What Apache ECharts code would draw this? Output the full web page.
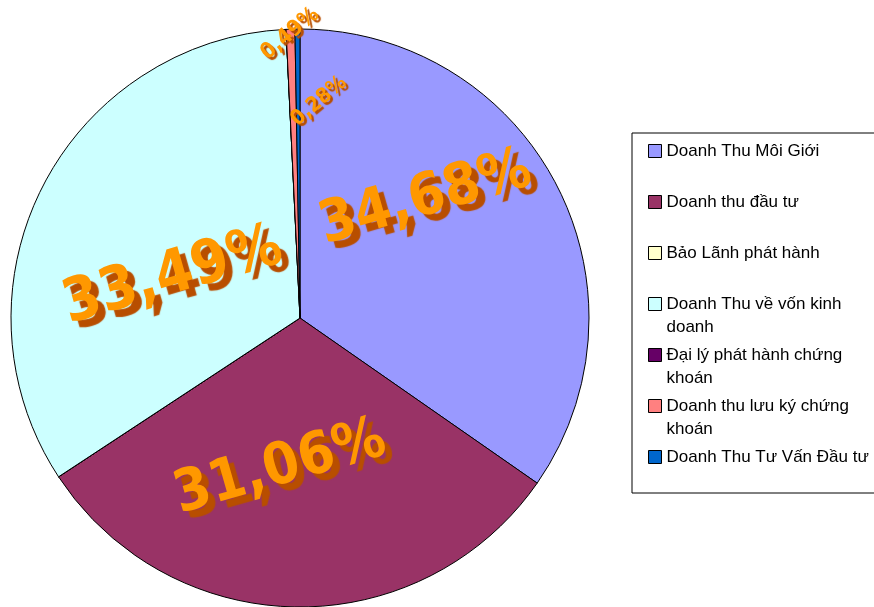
<!DOCTYPE html>
<html><head><meta charset="utf-8">
<script src="https://cdn.jsdelivr.net/npm/echarts@6/dist/echarts.min.js"></script>
<style>html,body{margin:0;padding:0;background:#fff}#c{width:874px;height:607px}</style>
</head><body><div id="c"></div>
<script>
// ---- data ----
const categories = ['Doanh Thu Môi Giới', 'Doanh thu đầu tư', 'Bảo Lãnh phát hành', 'Doanh Thu về vốn kinh doanh', 'Đại lý phát hành chứng khoán', 'Doanh thu lưu ký chứng khoán', 'Doanh Thu Tư Vấn Đầu tư'];
const values = [34.68, 31.06, 0, 33.49, 0, 0.49, 0.28];
const legendLines = {
  'Doanh Thu về vốn kinh doanh': ['Doanh Thu về vốn kinh', 'doanh'],
  'Đại lý phát hành chứng khoán': ['Đại lý phát hành chứng', 'khoán'],
  'Doanh thu lưu ký chứng khoán': ['Doanh thu lưu ký chứng', 'khoán']
};

// ---- styles ----
const colors = ['#9999FF', '#993366', '#FFFFCC', '#CCFFFF', '#660066', '#FF8080', '#0066CC'];
const labelStyles = [
  { fontSize: 58, rotate: 16, offset: [9, -50] },
  { fontSize: 58, rotate: 16, offset: [-18, -2] },
  null,
  { fontSize: 60, rotate: 16, offset: [-3, 26] },
  null,
  { fontSize: 22, rotate: 40, offset: [84, -108] },
  { fontSize: 21, rotate: 40, offset: [60, -40] }
];

const chart = echarts.init(document.getElementById('c'), null, { renderer: 'canvas' });

const seriesData = categories.map((name, i) => {
  const ls = labelStyles[i];
  const item = { name: name, value: values[i] };
  if (!ls || values[i] === 0) {
    item.label = { show: false };
  } else {
    item.label = { fontSize: ls.fontSize, rotate: ls.rotate, offset: ls.offset,
      color: '#FF9800', textShadowColor: '#B84E00', textShadowBlur: 1,
      textShadowOffsetX: Math.max(2, ls.fontSize / 8), textShadowOffsetY: Math.max(2, ls.fontSize / 9) };
  }
  return item;
});

chart.setOption({
  animation: false,
  color: colors,
  legend: {
    orient: 'vertical',
    left: 632,
    top: 133,
    padding: [6, 30, 1, 16],
    itemGap: 4,
    itemWidth: 13,
    itemHeight: 46,
    icon: 'path://M0,0 M0,5 L13,5 L13,18 L0,18 Z M13,46',
    itemStyle: { borderColor: '#000', borderWidth: 1 },
    borderColor: '#000',
    borderWidth: 1,
    backgroundColor: '#fff',
    selectedMode: false,
    textStyle: { fontFamily: '"Liberation Sans", Arial, sans-serif', fontSize: 17, lineHeight: 23, color: '#000' },
    formatter: function (name) {
      const l = legendLines[name];
      return l ? l[0] + '\n' + l[1] : name + '\n ';
    },
    data: categories
  },
  series: [{
    type: 'pie',
    center: [300, 318],
    radius: 289,
    startAngle: 90,
    clockwise: true,
    avoidLabelOverlap: false,
    minAngle: 0,
    itemStyle: { borderColor: '#000', borderWidth: 1 },
    emphasis: { disabled: true },
    label: {
      show: true,
      position: 'inside',
      fontFamily: '"DejaVu Sans Condensed", "Liberation Sans Narrow", sans-serif',
      fontWeight: 'bold',
      color: '#FF9800',
      formatter: function (p) {
        return p.value.toFixed(2).replace('.', ',') + '%';
      }
    },
    labelLine: { show: false },
    data: seriesData
  }]
});
</script>
</body></html>
